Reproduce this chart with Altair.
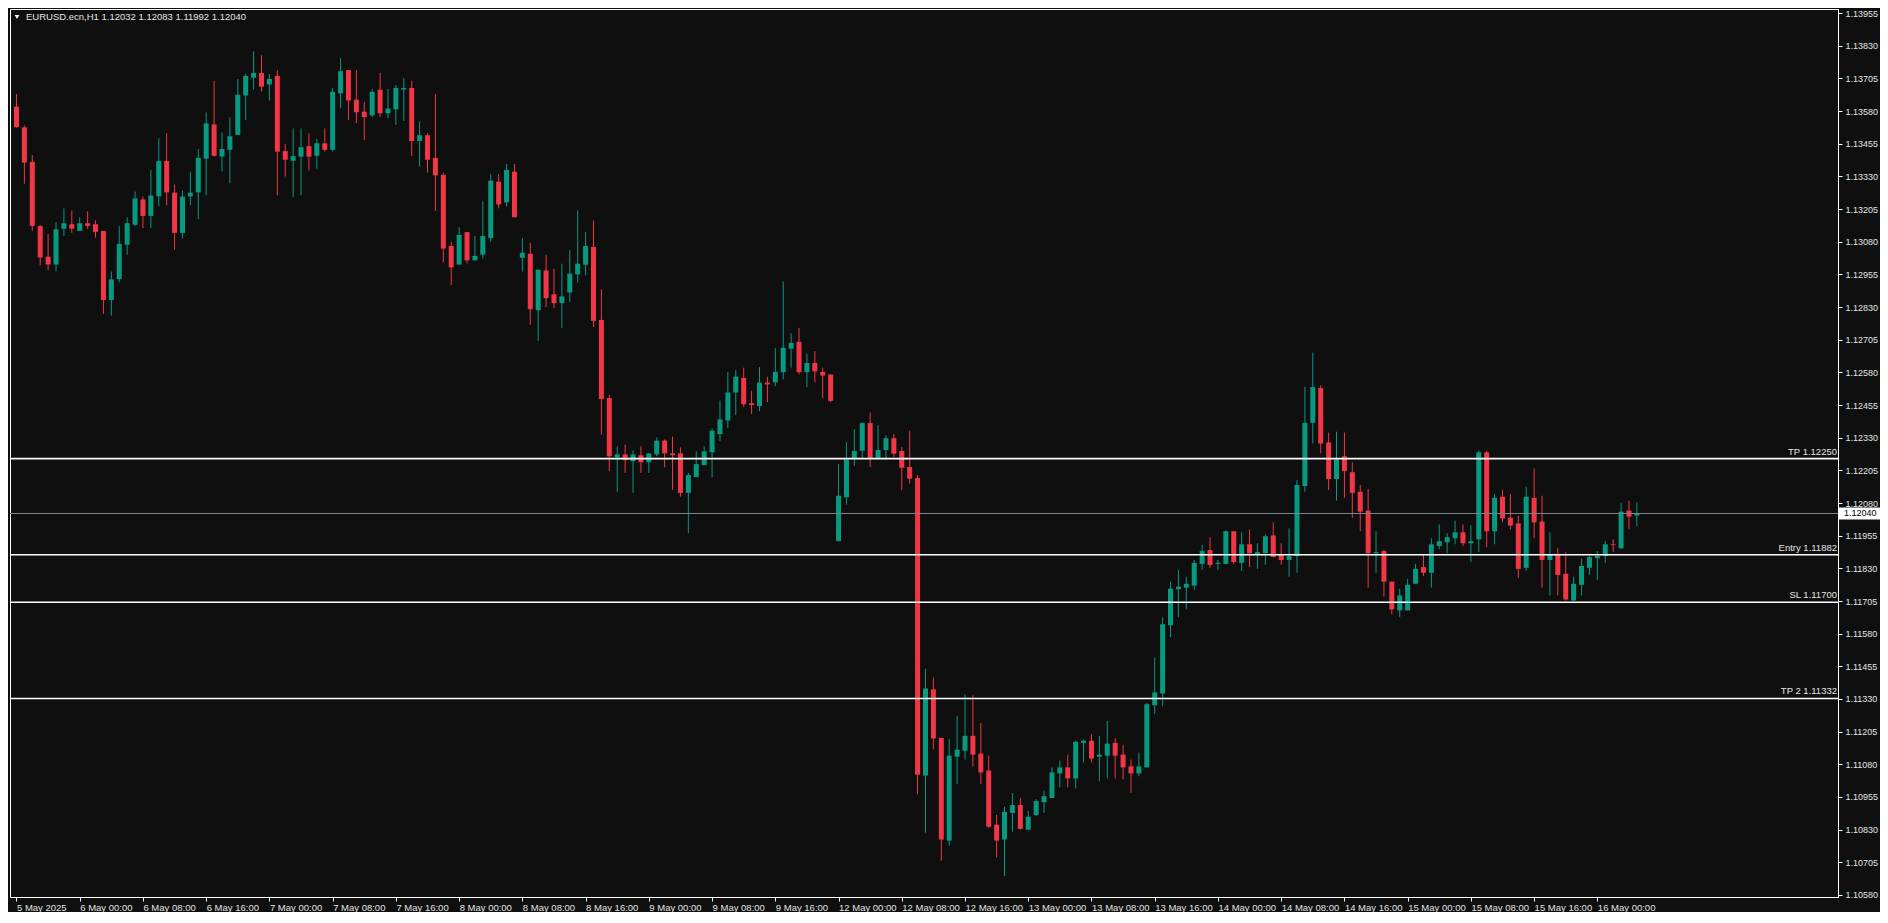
import json
import altair as alt
import pandas as pd

# ---- OHLC values (EURUSD H1, from 5 May 16:00) ----
opens = [
1.13597,1.13518,1.13386,1.13140,1.13023,1.12993,1.13130,1.13147,1.13122,1.13151,
1.13147,1.13121,1.12857,1.12937,1.13069,1.13145,1.13242,1.13179,1.13254,1.13389,
1.13268,1.13114,1.13254,1.13269,1.13398,1.13529,1.13406,1.13432,1.13489,1.13640,
1.13708,1.13726,1.13682,1.13715,1.13427,1.13390,1.13406,1.13446,1.13409,1.13457,
1.13432,1.13648,1.13737,1.13624,1.13578,1.13564,1.13662,1.13572,1.13587,1.13663,
1.13669,1.13466,1.13488,1.13401,1.13336,1.13064,1.12993,1.13117,1.13009,1.13031,
1.13094,1.13310,1.13231,1.13348,1.13019,1.13034,1.12818,1.12970,1.12879,1.12845,
1.12886,1.12955,1.12992,1.13060,1.12781,1.12482,1.12255,1.12266,1.12240,1.12263,
1.12236,1.12266,1.12319,1.12270,1.12270,1.12119,1.12179,1.12225,1.12274,1.12344,
1.12396,1.12503,1.12559,1.12462,1.12451,1.12541,1.12542,1.12581,1.12671,1.12697,
1.12581,1.12616,1.12582,1.12572,1.11934,1.12102,1.12249,1.12280,1.12386,1.12252,
1.12283,1.12328,1.12279,1.12218,1.12176,1.11037,1.11367,1.11181,1.10788,1.11109,
1.11132,1.11189,1.11121,1.11056,1.10849,1.10792,1.10894,1.10924,1.10830,1.10886,
1.10935,1.10951,1.11045,1.11068,1.11026,1.11162,1.11170,1.11109,1.11113,1.11162,
1.11117,1.11072,1.11045,1.11068,1.11306,1.11351,1.11612,1.11750,1.11756,1.11764,
1.11847,1.11900,1.11847,1.11847,1.11972,1.11851,1.11922,1.11885,1.11888,1.11956,
1.11885,1.11862,1.11877,1.12145,1.12387,1.12520,1.12312,1.12172,1.12259,1.12198,
1.12123,1.12051,1.11888,1.11896,1.11779,1.11669,1.11669,1.11771,1.11835,1.11813,
1.11915,1.11930,1.11945,1.11968,1.11926,1.11941,1.12274,1.11972,1.12104,1.12024,
1.12002,1.11832,1.12100,1.12009,1.11862,1.11881,1.11809,1.11707,1.11767,1.11832,
1.11869,1.11877,1.11922,1.11907,1.12051,1.12032]
highs = [
1.13646,1.13525,1.13412,1.13144,1.13110,1.13155,1.13208,1.13200,1.13174,1.13197,
1.13162,1.13121,1.12966,1.13140,1.13174,1.13272,1.13253,1.13355,1.13476,1.13495,
1.13299,1.13276,1.13348,1.13435,1.13575,1.13696,1.13499,1.13556,1.13703,1.13722,
1.13809,1.13794,1.13722,1.13737,1.13454,1.13514,1.13514,1.13495,1.13473,1.13514,
1.13669,1.13783,1.13737,1.13737,1.13616,1.13665,1.13726,1.13665,1.13680,1.13707,
1.13696,1.13541,1.13495,1.13646,1.13344,1.13079,1.13136,1.13117,1.13102,1.13234,
1.13340,1.13340,1.13378,1.13378,1.13094,1.13076,1.12973,1.13030,1.12977,1.12996,
1.13049,1.13200,1.13117,1.13162,1.12898,1.12493,1.12297,1.12304,1.12281,1.12297,
1.12270,1.12331,1.12323,1.12334,1.12293,1.12195,1.12278,1.12297,1.12365,1.12472,
1.12582,1.12590,1.12598,1.12510,1.12601,1.12564,1.12674,1.12928,1.12730,1.12750,
1.12651,1.12662,1.12598,1.12572,1.12229,1.12313,1.12362,1.12389,1.12427,1.12378,
1.12339,1.12344,1.12295,1.12357,1.12187,1.11446,1.11412,1.11181,1.11177,1.11264,
1.11348,1.11344,1.11238,1.11113,1.10886,1.10917,1.10970,1.10951,1.10902,1.10947,
1.10979,1.11068,1.11094,1.11117,1.11170,1.11174,1.11196,1.11189,1.11246,1.11181,
1.11155,1.11098,1.11125,1.11314,1.11488,1.11643,1.11779,1.11824,1.11798,1.11862,
1.11919,1.11949,1.11862,1.11975,1.11972,1.11968,1.11979,1.11926,1.11960,1.12006,
1.11926,1.11983,1.12168,1.12524,1.12656,1.12531,1.12350,1.12353,1.12350,1.12236,
1.12149,1.12134,1.11972,1.11900,1.11779,1.11752,1.11790,1.11847,1.11881,1.11945,
1.11998,1.11964,1.12013,1.11998,1.11994,1.12281,1.12281,1.12115,1.12130,1.12115,
1.12032,1.12142,1.12213,1.12108,1.11968,1.11907,1.11892,1.11798,1.11866,1.11877,
1.11896,1.11934,1.11941,1.12081,1.12089,1.12083]
lows = [
1.13517,1.13302,1.13122,1.12990,1.12971,1.12967,1.13103,1.13114,1.13122,1.13130,
1.13096,1.12804,1.12797,1.12925,1.13031,1.13141,1.13133,1.13133,1.13217,1.13220,
1.13050,1.13092,1.13220,1.13167,1.13258,1.13406,1.13349,1.13304,1.13489,1.13546,
1.13663,1.13655,1.13621,1.13258,1.13330,1.13251,1.13258,1.13353,1.13360,1.13425,
1.13425,1.13591,1.13546,1.13534,1.13470,1.13557,1.13557,1.13553,1.13527,1.13542,
1.13409,1.13368,1.13345,1.13198,1.13001,1.12914,1.12993,1.12997,1.13009,1.13016,
1.13079,1.13208,1.13215,1.13174,1.12966,1.12762,1.12701,1.12830,1.12826,1.12750,
1.12849,1.12924,1.12951,1.12754,1.12342,1.12202,1.12123,1.12195,1.12119,1.12195,
1.12195,1.12259,1.12217,1.12130,1.12104,1.11964,1.12179,1.12225,1.12179,1.12317,
1.12367,1.12417,1.12448,1.12421,1.12432,1.12466,1.12527,1.12553,1.12598,1.12573,
1.12524,1.12542,1.12482,1.12466,1.11934,1.12074,1.12223,1.12252,1.12218,1.12252,
1.12252,1.12257,1.12129,1.12154,1.10965,1.10818,1.11137,1.10711,1.10769,1.11004,
1.11098,1.11072,1.11004,1.10837,1.10724,1.10652,1.10822,1.10830,1.10830,1.10883,
1.10894,1.10951,1.10992,1.10992,1.10988,1.11087,1.11087,1.11015,1.11026,1.11026,
1.11022,1.10970,1.11034,1.11068,1.11272,1.11302,1.11567,1.11643,1.11673,1.11748,
1.11824,1.11832,1.11824,1.11847,1.11847,1.11820,1.11835,1.11828,1.11843,1.11873,
1.11843,1.11798,1.11813,1.12123,1.12308,1.12270,1.12130,1.12089,1.12100,1.12024,
1.11972,1.11756,1.11813,1.11722,1.11654,1.11643,1.11669,1.11771,1.11801,1.11756,
1.11903,1.11888,1.11922,1.11915,1.11854,1.11892,1.11911,1.11922,1.12006,1.11979,
1.11794,1.11820,1.11945,1.11756,1.11726,1.11726,1.11707,1.11707,1.11726,1.11805,
1.11786,1.11851,1.11892,1.11903,1.11979,1.11992]
closes = [
1.13519,1.13383,1.13141,1.13020,1.12993,1.13128,1.13151,1.13130,1.13151,1.13141,
1.13118,1.12857,1.12936,1.13072,1.13151,1.13246,1.13179,1.13257,1.13389,1.13269,
1.13114,1.13253,1.13268,1.13401,1.13533,1.13409,1.13435,1.13484,1.13643,1.13715,
1.13726,1.13674,1.13703,1.13425,1.13394,1.13408,1.13442,1.13406,1.13457,1.13432,
1.13654,1.13733,1.13621,1.13576,1.13557,1.13654,1.13572,1.13590,1.13669,1.13669,
1.13466,1.13488,1.13394,1.13334,1.13054,1.12982,1.13106,1.13009,1.13026,1.13102,
1.13314,1.13223,1.13355,1.13174,1.13038,1.12822,1.12973,1.12864,1.12845,1.12871,
1.12958,1.12996,1.13064,1.12777,1.12478,1.12259,1.12266,1.12244,1.12266,1.12236,
1.12270,1.12319,1.12270,1.12263,1.12119,1.12187,1.12229,1.12278,1.12357,1.12400,
1.12503,1.12564,1.12458,1.12455,1.12541,1.12534,1.12582,1.12674,1.12693,1.12581,
1.12616,1.12584,1.12568,1.12471,1.12108,1.12246,1.12279,1.12386,1.12252,1.12283,
1.12328,1.12269,1.12215,1.12173,1.11040,1.11370,1.11179,1.10792,1.11113,1.11136,
1.11189,1.11117,1.11049,1.10841,1.10788,1.10898,1.10924,1.10833,1.10879,1.10939,
1.10958,1.11049,1.11068,1.11026,1.11166,1.11170,1.11102,1.11117,1.11159,1.11113,
1.11068,1.11045,1.11072,1.11310,1.11355,1.11616,1.11752,1.11760,1.11771,1.11851,
1.11896,1.11843,1.11851,1.11972,1.11854,1.11922,1.11888,1.11892,1.11953,1.11873,
1.11862,1.11877,1.12149,1.12387,1.12524,1.12308,1.12172,1.12247,1.12202,1.12119,
1.12047,1.11888,1.11892,1.11779,1.11673,1.11726,1.11767,1.11828,1.11813,1.11922,
1.11934,1.11949,1.11968,1.11926,1.11934,1.12274,1.11972,1.12100,1.12021,1.11994,
1.11828,1.12104,1.12006,1.11862,1.11881,1.11805,1.11711,1.11771,1.11839,1.11873,
1.11877,1.11922,1.11919,1.12047,1.12028,1.12040]

x_labels = ["5 May 2025", "6 May 00:00", "6 May 08:00", "6 May 16:00", "7 May 00:00",
            "7 May 08:00", "7 May 16:00", "8 May 00:00", "8 May 08:00", "8 May 16:00",
            "9 May 00:00", "9 May 08:00", "9 May 16:00", "12 May 00:00", "12 May 08:00",
            "12 May 16:00", "13 May 00:00", "13 May 08:00", "13 May 16:00", "14 May 00:00",
            "14 May 08:00", "14 May 16:00", "15 May 00:00", "15 May 08:00", "15 May 16:00",
            "16 May 00:00"]
price_ticks = [1.13955, 1.13830, 1.13705, 1.13580, 1.13455, 1.13330, 1.13205, 1.13080,
               1.12955, 1.12830, 1.12705, 1.12580, 1.12455, 1.12330, 1.12205, 1.12080,
               1.11955, 1.11830, 1.11705, 1.11580, 1.11455, 1.11330, 1.11205, 1.11080,
               1.10955, 1.10830, 1.10705, 1.10580]
level_prices = [1.12250, 1.11882, 1.11700, 1.11332]
level_names = ["TP 1.12250", "Entry 1.11882", "SL 1.11700", "TP 2 1.11332"]
current_price = 1.12040
current_label = "1.12040"
title_text = "EURUSD.ecn,H1  1.12032 1.12083 1.11992 1.12040"

# ---- styling ----
BG = "#0f0f0f"
GREEN = "#089981"
RED = "#F23645"
TXT = "#e4e4e4"
FONT = "Liberation Sans"
W, H = 1828, 888

df = pd.DataFrame({"i": list(range(len(opens))), "open": opens, "high": highs,
                   "low": lows, "close": closes})
df["dir"] = ["up" if c >= o else "down" for o, c in zip(opens, closes)]

levels_df = pd.DataFrame({"price": level_prices, "name": level_names})
cur_df = pd.DataFrame({"price": [current_price], "label": [current_label]})
title_df = pd.DataFrame({"t": [title_text]})

xs = alt.Scale(domain=[-0.1875, 229.8125], nice=False, zero=False)
ys = alt.Scale(domain=[1.10572, 1.13971], nice=False, zero=False)
col = alt.Color("dir:N", scale=alt.Scale(domain=["up", "down"], range=[GREEN, RED]), legend=None)

label_expr = json.dumps(x_labels) + "[round(datum.value / 8)]"
x_axis = alt.Axis(values=list(range(0, 201, 8)), labelExpr=label_expr, orient="bottom",
                  tickSize=4, tickColor="white", domainColor="white", labelAlign="left",
                  labelBaseline="top", labelPadding=1, labelFlush=False, labelOverlap=False,
                  grid=False, labelColor=TXT, labelFont=FONT, labelFontSize=9.5, title=None)
y_axis = alt.Axis(values=price_ticks, format=".5f", orient="right", tickSize=4,
                  tickColor="white", domainColor="white", labelPadding=3, grid=False,
                  labelOverlap=False, labelFlush=False, labelBound=False,
                  labelColor=TXT, labelFont=FONT, labelFontSize=9, title=None)

base = alt.Chart(df)
wicks = base.mark_rule(strokeWidth=1).encode(
    x=alt.X("i:Q", scale=xs, axis=x_axis, title=None),
    y=alt.Y("low:Q", scale=ys, axis=y_axis, title=None),
    y2="high:Q",
    color=col,
)
bodies = base.mark_bar(width=5).encode(
    x=alt.X("i:Q", scale=xs, axis=x_axis, title=None),
    y=alt.Y("open:Q", scale=ys, axis=y_axis, title=None),
    y2="close:Q",
    color=col,
)

level_lines = alt.Chart(levels_df).mark_rule(color="white", strokeWidth=1.6).encode(
    y=alt.Y("price:Q", scale=ys, axis=y_axis, title=None))
level_text = alt.Chart(levels_df).mark_text(
    align="right", baseline="bottom", dy=-2, color=TXT, font=FONT, fontSize=9.5
).encode(x=alt.value(W - 1), y=alt.Y("price:Q", scale=ys, axis=y_axis, title=None), text="name:N")

cur_line = alt.Chart(cur_df).mark_rule(color="#80858e", strokeWidth=1).encode(
    y=alt.Y("price:Q", scale=ys, axis=y_axis, title=None))
cur_box = alt.Chart(cur_df).mark_rect(color="white", yOffset=-6, y2Offset=6).encode(
    x=alt.value(W + 1), x2=alt.value(W + 42),
    y=alt.Y("price:Q", scale=ys, axis=y_axis, title=None), y2="price:Q")
cur_text = alt.Chart(cur_df).mark_text(
    align="left", baseline="middle", color="black", font=FONT, fontSize=9
).encode(x=alt.value(W + 6), y=alt.Y("price:Q", scale=ys, axis=y_axis, title=None), text="label:N")

title_mark = alt.Chart(title_df).mark_text(
    align="left", baseline="middle", color=TXT, font=FONT, fontSize=9.5
).encode(x=alt.value(16), y=alt.value(8), text="t:N")
tri = alt.Chart(title_df).mark_point(
    shape="triangle-down", filled=True, color="white", size=22, opacity=1
).encode(x=alt.value(7), y=alt.value(8))

chart = alt.layer(
    wicks, bodies, level_lines, cur_line, level_text, cur_box, cur_text, title_mark, tri
).properties(
    width=W, height=H, padding={"left": 1, "top": 1, "right": 0, "bottom": 0}
).configure(background=BG).configure_view(
    stroke="white", strokeWidth=1
).configure_axis(labelOverlap=False)

chart.save("out.html", embed_options={"renderer": "svg", "actions": False})
